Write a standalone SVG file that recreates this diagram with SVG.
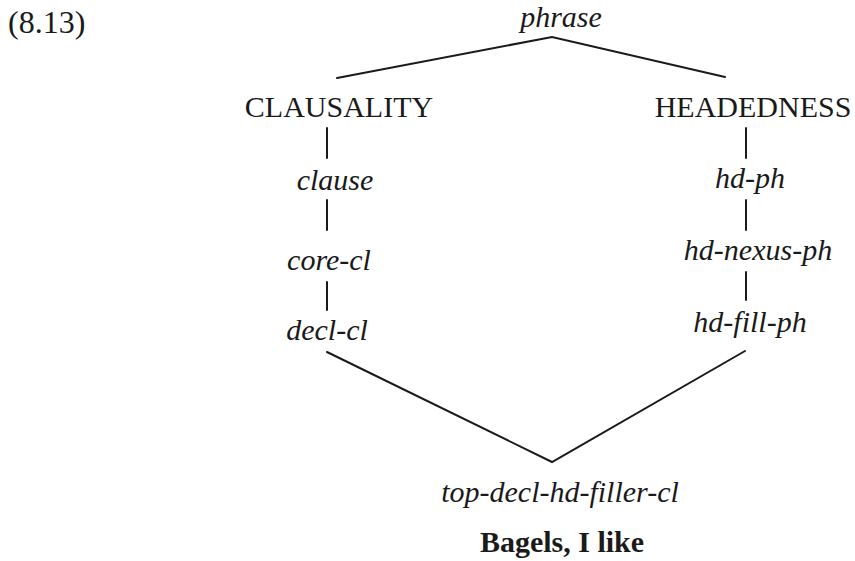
<svg xmlns="http://www.w3.org/2000/svg" width="855" height="561" viewBox="0 0 855 561">
  <style>
    .t { font-family: "Liberation Serif", "Times New Roman", serif; font-size: 30px; fill: #1a1a1a; text-anchor: middle; }
    .it { font-style: italic; }
    .b { font-weight: bold; }
    .edge { stroke: #1a1a1a; stroke-width: 2; fill: none; stroke-linecap: round; }
  </style>
  <rect width="855" height="561" fill="#ffffff"/>

  <!-- example number -->
  <text x="8" y="33" class="t" style="text-anchor:start;font-size:32px">(8.13)</text>

  <g id="connectors">
    <polyline class="edge" points="337,78 552,37 725,77"/>
    <line class="edge" x1="327" y1="128" x2="327" y2="158"/>
    <line class="edge" x1="327" y1="200" x2="327" y2="230"/>
    <line class="edge" x1="327" y1="282" x2="327" y2="310"/>
    <line class="edge" x1="746" y1="128" x2="746" y2="158"/>
    <line class="edge" x1="746" y1="200" x2="746" y2="230"/>
    <line class="edge" x1="746" y1="272" x2="746" y2="300"/>
    <polyline class="edge" points="327,352 552,462 745,351"/>
  </g>

  <g id="phrase"><text x="561" y="27" class="t it">phrase</text></g>
  <g id="clausality"><text x="339" y="117" class="t">CLAUSALITY</text></g>
  <g id="headedness"><text x="753" y="117" class="t">HEADEDNESS</text></g>
  <g id="clause"><text x="335" y="190" class="t it">clause</text></g>
  <g id="core-cl"><text x="329" y="270" class="t it">core-cl</text></g>
  <g id="decl-cl"><text x="327" y="340" class="t it">decl-cl</text></g>
  <g id="hd-ph"><text x="750" y="188" class="t it">hd-ph</text></g>
  <g id="hd-nexus-ph"><text x="758" y="260" class="t it">hd-nexus-ph</text></g>
  <g id="hd-fill-ph"><text x="750" y="332" class="t it">hd-fill-ph</text></g>
  <g id="top-decl-hd-filler-cl"><text x="560" y="502" class="t it">top-decl-hd-filler-cl</text></g>
  <g id="example"><text x="562" y="552" class="t b">Bagels, I like</text></g>
</svg>
